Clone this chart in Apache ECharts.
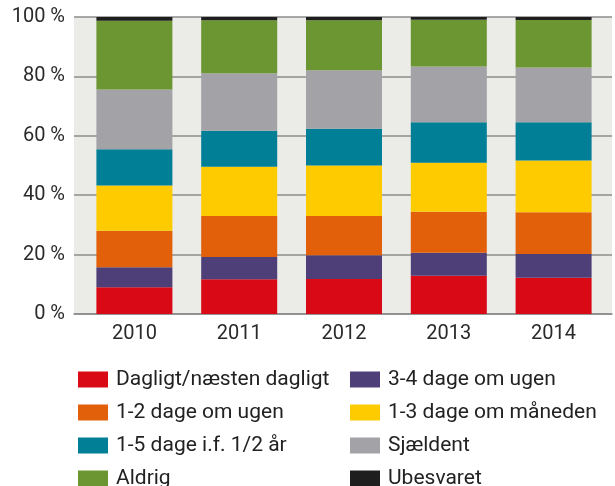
<!DOCTYPE html>
<html>
<head>
<meta charset="utf-8">
<script src="https://cdn.jsdelivr.net/npm/echarts@6/dist/echarts.min.js"></script>
<style>
  html, body { margin: 0; padding: 0; background: #fff; }
  #chart { width: 615px; height: 486px; }
</style>
</head>
<body>
<div id="chart"></div>
<script>
// 年份
const years = ['2010', '2011', '2012', '2013', '2014'];

// 各类别占比 (%)
const dagligt   = [9.0, 11.7, 11.8, 12.9, 12.2];
const dage34    = [6.7, 7.5, 8.0, 7.7, 8.0];
const dage12    = [12.3, 13.8, 13.2, 13.8, 14.1];
const maaned13  = [15.3, 16.6, 17.0, 16.5, 17.4];
const halvaar15 = [12.2, 12.1, 12.4, 13.7, 12.9];
const sjaeldent = [20.1, 19.4, 19.7, 18.7, 18.4];
const aldrig    = [23.1, 17.8, 16.8, 15.8, 16.0];
const ubesvaret = [1.3, 1.1, 1.1, 0.9, 1.0];

const yTicks = [0, 20, 40, 60, 80, 100];

const seriesDefs = [
    { name: 'Dagligt/næsten dagligt', data: dagligt, color: '#d90916' },
    { name: '3-4 dage om ugen', data: dage34, color: '#4f3f78' },
    { name: '1-2 dage om ugen', data: dage12, color: '#e2600a' },
    { name: '1-3 dage om måneden', data: maaned13, color: '#fecb00' },
    { name: '1-5 dage i.f. 1/2 år', data: halvaar15, color: '#017f96' },
    { name: 'Sjældent', data: sjaeldent, color: '#a2a2a7' },
    { name: 'Aldrig', data: aldrig, color: '#6c9631' },
    { name: 'Ubesvaret', data: ubesvaret, color: '#1e1e1e' }
];

const font = 'Roboto';
const legendText = { fontFamily: font, fontSize: 21, color: '#222', lineHeight: 16, padding: [0, 0, 0, 3] };

const chart = echarts.init(document.getElementById('chart'));
chart.setOption({
    animation: false,
    textStyle: { fontFamily: font },
    grid: [
        // 背景与网格线
        { left: 74, right: 3, top: 17, bottom: 172, show: true, backgroundColor: '#ebebe7', borderWidth: 0 },
        // 柱子
        { left: 82, right: 9, top: 17, bottom: 172 }
    ],
    xAxis: [
        {
            gridIndex: 0, type: 'category', data: years,
            axisLine: { lineStyle: { color: '#8c8c8c', width: 1.5 } },
            axisTick: { show: false }, axisLabel: { show: false }
        },
        {
            gridIndex: 1, type: 'category', data: years,
            axisLine: { show: false }, axisTick: { show: false },
            axisLabel: { fontSize: 20, color: '#2a2a2a', margin: 10, fontFamily: font }
        }
    ],
    yAxis: [
        {
            gridIndex: 0, type: 'value', min: yTicks[0], max: yTicks[yTicks.length - 1], interval: 20,
            axisLine: { show: false }, axisTick: { show: false },
            splitLine: { lineStyle: { color: '#8c8c8c', width: 1.5 } },
            axisLabel: { formatter: '{value} %', fontSize: 20, color: '#2a2a2a', margin: 9, fontFamily: font }
        },
        {
            gridIndex: 1, type: 'value', min: 0, max: 100, show: false
        }
    ],
    legend: [
        {
            left: 78, top: 369, height: 160, orient: 'vertical', padding: 0, itemGap: 12,
            itemWidth: 30, itemHeight: 16, icon: 'rect', selectedMode: false,
            textStyle: legendText,
            data: ['Dagligt/næsten dagligt', '1-2 dage om ugen', '1-5 dage i.f. 1/2 år', 'Aldrig']
        },
        {
            left: 350, top: 369, height: 160, orient: 'vertical', padding: 0, itemGap: 12,
            itemWidth: 30, itemHeight: 16, icon: 'rect', selectedMode: false,
            textStyle: legendText,
            data: ['3-4 dage om ugen', '1-3 dage om måneden', 'Sjældent', 'Ubesvaret']
        }
    ],
    series: seriesDefs.map(s => ({
        name: s.name,
        type: 'bar',
        stack: 'total',
        xAxisIndex: 1,
        yAxisIndex: 1,
        barWidth: 76,
        data: s.data,
        itemStyle: { color: s.color }
    }))
});
</script>
</body>
</html>
